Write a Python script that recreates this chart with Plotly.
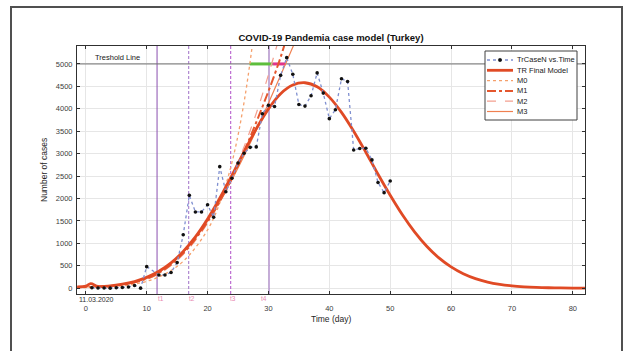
import plotly.graph_objects as go

# ---- observed daily case counts (day index -> new cases) ----
case_days = [1, 2, 3, 4, 5, 6, 7, 8, 9, 10,
             12, 13, 14, 15, 16, 17, 18, 19, 20, 21, 22, 23, 24, 25, 26, 27, 28, 29, 30,
             31, 32, 33, 34, 35, 36, 37, 38, 39, 40, 41, 42, 43, 44, 45, 46, 47, 48, 49, 50]
case_values = [10, 5, 5, 0, 10, 15, 25, 60, 0, 480,
               295, 295, 350, 570, 1190, 2070, 1700, 1700, 1860, 1580, 2710, 2150, 2450, 2790, 3010, 3140, 3150, 3890, 4080,
               4050, 4745, 5140, 4770, 4095, 4060, 4290, 4800, 4350, 3780, 3980, 4670, 4610, 3080, 3115, 3120, 2860, 2355, 2130, 2390]

# ---- final model curve ----
final_days = [-1.4, 0, 0.8, 2, 4, 6, 8, 10, 12, 14, 16, 18, 20, 22, 24, 26, 28, 30, 32, 34, 36, 38, 40,
              42, 44, 46, 48, 50, 52, 54, 56, 58, 60, 62, 64, 66, 68, 70, 72, 74, 76, 78, 80, 82]
final_values = [30, 45, 100, 40, 50, 88, 148, 240, 376, 563, 820, 1143, 1541, 2005, 2517, 3045, 3553, 3998, 4337,
                4530, 4580, 4490, 4260, 3920, 3500, 3030, 2540, 2072, 1637, 1257, 936, 675, 474, 322, 213, 136,
                85, 51, 30, 17, 9, 5, 2, 1]

# ---- intermediate models ----
m0_days = [-1.4, 4, 8, 12, 16, 20, 22, 24, 26, 28]
m0_values = [10, 30, 90, 250, 600, 1300, 1900, 2800, 4150, 6100]
m1_days = [-1.4, 4, 8, 12, 16, 20, 24, 28, 32, 34]
m1_values = [20, 50, 130, 340, 780, 1480, 2450, 3700, 5150, 6100]
m2_days = [-1.4, 4, 8, 12, 16, 20, 24, 28, 32]
m2_values = [15, 45, 120, 320, 750, 1450, 2500, 3900, 5700]
m3_days = [-1.4, 4, 8, 12, 16, 20, 24, 28, 32, 36]
m3_values = [25, 55, 140, 350, 800, 1500, 2420, 3520, 4750, 6000]

# ---- threshold and phase markers ----
threshold = 5000
threshold_green = [26.9, 30.7]
threshold_magenta = [30.7, 32.8]
t_days = [11.7, 16.9, 23.8, 30.1]
t_labels = ["t1", "t2", "t3", "t4"]
t_label_days = [12.3, 17.5, 24.2, 29.2]
t_dash = ["solid", "3px,2px", "3px,2px", "solid"]
t_colors = ["#8A4FB0", "#A070C8", "#B050C8", "#9A68BE"]

x_ticks = list(range(0, 81, 10))
y_ticks = list(range(0, 5001, 500))
x_range = [-1.45, 82.0]
y_range = [-130, 5400]

FONT = "Arial, Liberation Sans, sans-serif"

# plot-area geometry in pixels (used for placing decorations in paper space)
L, R, T, B = 77, 585, 46, 294
W, H = 625, 351


def px_x(px):
    return (px - L) / (R - L)


def px_y(py):
    return (B - py) / (B - T)


fig = go.Figure()

# vertical phase lines
for d, dash, col in zip(t_days, t_dash, t_colors):
    fig.add_trace(go.Scatter(x=[d, d], y=y_range, mode="lines",
                             line=dict(color=col, width=1, dash=dash),
                             showlegend=False, hoverinfo="skip"))

# threshold line with highlighted intervals
fig.add_trace(go.Scatter(x=x_range, y=[threshold, threshold], mode="lines",
                         line=dict(color="#707070", width=1), showlegend=False))
fig.add_trace(go.Scatter(x=threshold_green, y=[threshold, threshold], mode="lines",
                         line=dict(color="#5DBE3C", width=3), showlegend=False))
fig.add_trace(go.Scatter(x=threshold_magenta, y=[threshold, threshold], mode="lines",
                         line=dict(color="#E0358C", width=3), showlegend=False))

# model curves
fig.add_trace(go.Scatter(x=m0_days, y=m0_values, mode="lines", line_shape="spline",
                         line=dict(color="#F5A06C", width=1.3, dash="dot"), name="M0"))
fig.add_trace(go.Scatter(x=m2_days, y=m2_values, mode="lines", line_shape="spline",
                         line=dict(color="#F4A090", width=1.2, dash="dash"), name="M2"))
fig.add_trace(go.Scatter(x=m3_days, y=m3_values, mode="lines", line_shape="spline",
                         line=dict(color="#F08050", width=1.2), name="M3"))
fig.add_trace(go.Scatter(x=m1_days, y=m1_values, mode="lines", line_shape="spline",
                         line=dict(color="#E4572E", width=2, dash="dashdot"), name="M1"))
fig.add_trace(go.Scatter(x=final_days, y=final_values, mode="lines", line_shape="spline",
                         line=dict(color="#E04A25", width=2.8), name="TR Final Model"))

# observed cases
fig.add_trace(go.Scatter(x=case_days, y=case_values, mode="lines+markers",
                         line=dict(color="#7F8FD0", width=1.3, dash="dot"),
                         marker=dict(color="#111111", size=3.6, symbol="circle"),
                         name="TrCaseN vs.Time"))

shapes = []
annotations = []

# outer frame around the figure
shapes.append(dict(type="rect", xref="paper", yref="paper",
                   x0=px_x(11), x1=px_x(622), y0=px_y(362), y1=px_y(7),
                   line=dict(color="#505050", width=2), fillcolor="rgba(0,0,0,0)", layer="above"))

# custom compact legend
lx0, lx1, ly0, ly1 = 485, 577, 51, 120
shapes.append(dict(type="rect", xref="paper", yref="paper",
                   x0=px_x(lx0), x1=px_x(lx1), y0=px_y(ly1), y1=px_y(ly0),
                   line=dict(color="#404040", width=1), fillcolor="white", layer="above"))
legend_rows = [
    ("TrCaseN vs.Time", "#7F8FD0", 1.3, "dot"),
    ("TR Final Model", "#E04A25", 2.8, "solid"),
    ("M0", "#F5A06C", 1.3, "dot"),
    ("M1", "#E4572E", 2, "dashdot"),
    ("M2", "#F4A090", 1.2, "dash"),
    ("M3", "#F08050", 1.2, "solid"),
]
row_y0, row_step = 60, 10.3
for i, (label, col, wd, dash) in enumerate(legend_rows):
    yy = row_y0 + i * row_step
    shapes.append(dict(type="line", xref="paper", yref="paper",
                       x0=px_x(487), x1=px_x(513), y0=px_y(yy), y1=px_y(yy),
                       line=dict(color=col, width=wd, dash=dash), layer="above"))
    annotations.append(dict(x=px_x(515), y=px_y(yy), xref="paper", yref="paper",
                            text=label, showarrow=False, xanchor="left", yanchor="middle",
                            font=dict(family=FONT, size=7.5, color="#202020")))
    if i == 0:
        shapes.append(dict(type="circle", xref="paper", yref="paper",
                           x0=px_x(498.3), x1=px_x(501.7), y0=px_y(yy + 1.7), y1=px_y(yy - 1.7),
                           fillcolor="#111111", line=dict(color="#111111", width=0.5), layer="above"))

# threshold caption
annotations.append(dict(x=5.2, y=threshold, xref="x", yref="y", text="Treshold Line",
                        showarrow=False, xanchor="center", yanchor="bottom",
                        font=dict(family=FONT, size=7.5, color="#202020")))

# phase labels just under the axis
for d, lab in zip(t_label_days, t_labels):
    annotations.append(dict(x=d, y=px_y(298.5), xref="x", yref="paper", text=lab,
                            showarrow=False, xanchor="center", yanchor="middle",
                            font=dict(family=FONT, size=6.5, color="#E888B0")))

# start date label
annotations.append(dict(x=1.8, y=px_y(299), xref="x", yref="paper", text="11.03.2020",
                        showarrow=False, xanchor="center", yanchor="middle",
                        font=dict(family=FONT, size=7, color="#303030")))

# axis titles
annotations.append(dict(x=px_x(44), y=0.5, xref="paper", yref="paper", text="Number of cases",
                        textangle=-90, showarrow=False, xanchor="center", yanchor="middle",
                        font=dict(family=FONT, size=8.5, color="#262626")))
annotations.append(dict(x=0.5, y=px_y(319), xref="paper", yref="paper", text="Time (day)",
                        showarrow=False, xanchor="center", yanchor="middle",
                        font=dict(family=FONT, size=8.5, color="#262626")))

fig.update_layout(
    width=W, height=H,
    margin=dict(l=L, r=W - R, t=T, b=H - B),
    paper_bgcolor="white", plot_bgcolor="white",
    showlegend=False,
    title=dict(text="<b>COVID-19 Pandemia case model (Turkey)</b>",
               x=0.5, xref="paper", y=1 - 38 / H, yref="container",
               xanchor="center", yanchor="middle",
               font=dict(family=FONT, size=9.5, color="#111111")),
    shapes=shapes, annotations=annotations,
    font=dict(family=FONT),
)
axis_common = dict(showgrid=True, gridcolor="#E6E6E6", gridwidth=1,
                   showline=True, linecolor="#303030", linewidth=1, mirror="ticks",
                   ticks="inside", ticklen=3, tickcolor="#303030", zeroline=False,
                   tickfont=dict(family=FONT, size=7.5, color="#404040"))
fig.update_xaxes(range=x_range, tickvals=x_ticks, ticklabelstandoff=7, **axis_common)
fig.update_yaxes(range=y_range, tickvals=y_ticks, ticklabelstandoff=2, **axis_common)

fig.write_html("out.html")
